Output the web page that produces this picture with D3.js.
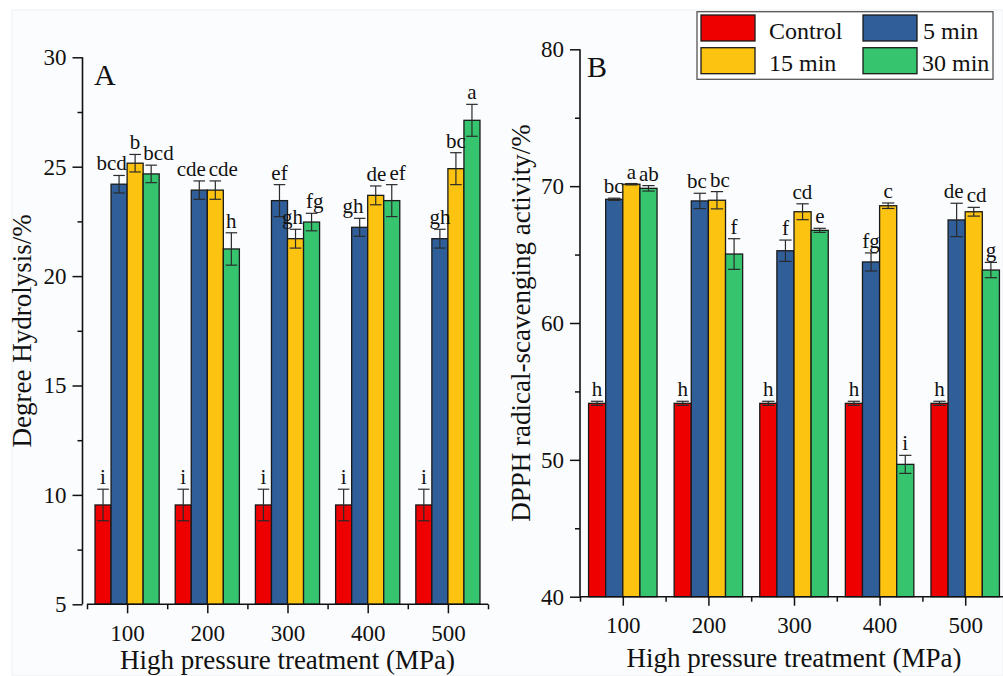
<!DOCTYPE html>
<html>
<head>
<meta charset="utf-8">
<script src="https://cdn.jsdelivr.net/npm/d3@7/dist/d3.min.js"></script>
<style>
  html, body { margin: 0; padding: 0; background: #ffffff; }
  svg { display: block; }
  text { font-family: "Liberation Serif", "Times New Roman", serif; fill: #111; }
</style>
</head>
<body>
<svg id="chart" width="1003" height="676"></svg>
<script>
// ---- data ----
const pressures = [100, 200, 300, 400, 500];
const seriesNames = ["Control", "5 min", "15 min", "30 min"];
const seriesColors = ["#ee0000", "#2f5e99", "#fdc311", "#36c46f"];

// Degree of hydrolysis (%), mean and SD
const dhControl = [9.54, 9.54, 9.54, 9.54, 9.54];
const dh5 = [24.20, 23.93, 23.45, 22.23, 21.71];
const dh15 = [25.16, 23.93, 21.71, 23.69, 24.91];
const dh30 = [24.67, 21.24, 22.47, 23.45, 27.12];
const dhControlErr = [0.72, 0.72, 0.72, 0.72, 0.72];
const dh5Err = [0.40, 0.42, 0.73, 0.41, 0.43];
const dh15Err = [0.40, 0.42, 0.43, 0.43, 0.73];
const dh30Err = [0.40, 0.74, 0.40, 0.73, 0.73];
const dhControlSig = ["i", "i", "i", "i", "i"];
const dh5Sig = ["bcd", "cde", "ef", "gh", "gh"];
const dh15Sig = ["b", "cde", "gh", "de", "bc"];
const dh30Sig = ["bcd", "h", "fg", "ef", "a"];

// DPPH radical-scavenging activity (%), mean and SD
const dpControl = [54.13, 54.13, 54.13, 54.13, 54.13];
const dp5 = [69.04, 68.92, 65.28, 64.46, 67.53];
const dp15 = [70.14, 68.97, 68.13, 68.57, 68.13];
const dp30 = [69.84, 65.04, 66.77, 49.67, 63.87];
const dpControlErr = [0.15, 0.15, 0.15, 0.15, 0.15];
const dp5Err = [0.08, 0.56, 0.78, 0.66, 1.22];
const dp15Err = [0.05, 0.63, 0.58, 0.20, 0.32];
const dp30Err = [0.20, 1.12, 0.15, 0.66, 0.56];
const dpControlSig = ["h", "h", "h", "h", "h"];
const dp5Sig = ["bc", "bc", "f", "fg", "de"];
const dp15Sig = ["a", "bc", "cd", "c", "cd"];
const dp30Sig = ["ab", "f", "e", "i", "g"];

const yTicksA = [5, 10, 15, 20, 25, 30];
const yTicksB = [40, 50, 60, 70, 80];

// ---- helpers ----
function buildRows(vals, errs, sigs) {
  const rows = [];
  pressures.forEach((p, i) => {
    seriesNames.forEach((s, j) => {
      rows.push({ p, s, j, v: vals[j][i], e: errs[j][i], sig: sigs[j][i] });
    });
  });
  return rows;
}

const svg = d3.select("#chart");

// faint sheet behind the figure
svg.append("rect").attr("x", 0).attr("y", 0).attr("width", 1003).attr("height", 676).attr("fill", "#ffffff");
svg.append("rect").attr("x", 12).attr("y", 10).attr("width", 991).attr("height", 666)
  .attr("fill", "#fbfcfd").attr("stroke", "#eef0f3").attr("stroke-width", 1);

function drawPanel(opt) {
  const g = svg.append("g");
  const x = d3.scaleLinear().domain([50, 550]).range([opt.x0, opt.x1]);
  const y = d3.scaleLinear().domain(opt.yDomain).range([opt.y0, opt.y1]);
  const step = x(200) - x(100);
  const inner = d3.scaleBand().domain(seriesNames).range([-0.4 * step, 0.4 * step]);
  const bw = inner.bandwidth();

  const rows = buildRows(opt.vals, opt.errs, opt.sigs);

  // bars
  g.selectAll("rect.bar").data(rows).join("rect")
    .attr("class", "bar")
    .attr("x", d => x(d.p) + inner(d.s))
    .attr("y", d => y(d.v))
    .attr("width", bw)
    .attr("height", d => y(opt.yDomain[0]) - y(d.v))
    .attr("fill", d => seriesColors[d.j])
    .attr("stroke", "#1a1a1a")
    .attr("stroke-width", 1.3);

  // error bars
  const cap = bw * 0.36;
  const eb = g.selectAll("g.err").data(rows).join("g").attr("class", "err")
    .attr("stroke", "#2a2a2a").attr("stroke-width", 1.2);
  eb.append("line")
    .attr("x1", d => x(d.p) + inner(d.s) + bw / 2)
    .attr("x2", d => x(d.p) + inner(d.s) + bw / 2)
    .attr("y1", d => y(d.v + d.e)).attr("y2", d => y(d.v - d.e));
  eb.append("line")
    .attr("x1", d => x(d.p) + inner(d.s) + bw / 2 - cap)
    .attr("x2", d => x(d.p) + inner(d.s) + bw / 2 + cap)
    .attr("y1", d => y(d.v + d.e)).attr("y2", d => y(d.v + d.e));
  eb.append("line")
    .attr("x1", d => x(d.p) + inner(d.s) + bw / 2 - cap)
    .attr("x2", d => x(d.p) + inner(d.s) + bw / 2 + cap)
    .attr("y1", d => y(d.v - d.e)).attr("y2", d => y(d.v - d.e));

  // significance letters, spread apart when neighbours collide
  const labels = g.selectAll("text.sig").data(rows).join("text")
    .attr("class", "sig")
    .attr("text-anchor", "middle")
    .attr("font-size", 21)
    .attr("x", d => x(d.p) + inner(d.s) + bw / 2)
    .attr("y", d => y(d.v + d.e) - 5)
    .text(d => d.sig);
  labels.each(function (d) {
    d.lx = x(d.p) + inner(d.s) + bw / 2;
    d.ly = y(d.v + d.e) - 5;
    d.w = this.getComputedTextLength();
  });
  const gap = 3;
  pressures.forEach(p => {
    const grp = rows.filter(r => r.p === p);
    for (let it = 0; it < 10; it++) {
      for (let k = 0; k < grp.length - 1; k++) {
        const a = grp[k], b = grp[k + 1];
        if (Math.abs(a.ly - b.ly) > 34) continue;
        const overlap = (a.lx + a.w / 2 + gap) - (b.lx - b.w / 2);
        if (overlap > 0) { a.lx -= overlap / 2; b.lx += overlap / 2; }
      }
    }
  });
  labels.attr("x", d => d.lx);

  // y axis
  const yAxis = d3.axisLeft(y).tickValues(opt.yTicks).tickSize(10).tickPadding(6).tickFormat(d3.format("d"));
  const ya = g.append("g").attr("transform", `translate(${opt.yAxisX},0)`).call(yAxis);
  const minorY = d3.axisLeft(y).tickValues(opt.yTicks.slice(0, -1).map((t, i) => (t + opt.yTicks[i + 1]) / 2))
    .tickSize(5).tickFormat("");
  g.append("g").attr("transform", `translate(${opt.yAxisX},0)`).call(minorY).select(".domain").remove();

  // x axis
  const xAxis = d3.axisBottom(x).tickValues(pressures).tickSize(9).tickPadding(11).tickFormat(d3.format("d"));
  const xa = g.append("g").attr("transform", `translate(0,${opt.y0})`).call(xAxis);
  const minorX = d3.axisBottom(x).tickValues([50, 150, 250, 350, 450, 550]).tickSize(5).tickFormat("");
  g.append("g").attr("transform", `translate(0,${opt.y0})`).call(minorX).select(".domain").remove();

  [ya, xa].forEach(a => {
    a.select(".domain").attr("stroke", "#111").attr("stroke-width", 1.6);
    a.selectAll(".tick text").attr("font-size", 23).attr("fill", "#111");
  });
  g.selectAll(".tick line").attr("stroke", "#111").attr("stroke-width", 1.5);
  ya.select(".domain").attr("d", `M0,${opt.y0}V${opt.y1}`);
  xa.select(".domain").attr("d", `M${opt.x0},0H${opt.x1}`);

  // titles
  g.append("text").attr("x", (opt.x0 + opt.x1) / 2).attr("y", opt.xTitleY)
    .attr("text-anchor", "middle").attr("font-size", 27).text("High pressure treatment (MPa)");
  g.append("text")
    .attr("transform", `translate(${opt.yTitleX},${(opt.y0 + opt.y1) / 2}) rotate(-90)`)
    .attr("text-anchor", "middle").attr("font-size", 27).text(opt.yTitle);
  g.append("text").attr("x", opt.tagX).attr("y", opt.tagY).attr("font-size", 30).text(opt.tag);
  return g;
}

drawPanel({
  x0: 87, x1: 488, y0: 604.3, y1: 57.3, yAxisX: 82.5,
  yDomain: [5, 30], yTicks: yTicksA,
  vals: [dhControl, dh5, dh15, dh30],
  errs: [dhControlErr, dh5Err, dh15Err, dh30Err],
  sigs: [dhControlSig, dh5Sig, dh15Sig, dh30Sig],
  yTitle: "Degree Hydrolysis/%", yTitleX: 31, xTitleY: 669,
  tag: "A", tagX: 94, tagY: 85
});

drawPanel({
  x0: 580, x1: 1008, y0: 596.7, y1: 49.3, yAxisX: 580,
  yDomain: [40, 80], yTicks: yTicksB,
  vals: [dpControl, dp5, dp15, dp30],
  errs: [dpControlErr, dp5Err, dp15Err, dp30Err],
  sigs: [dpControlSig, dp5Sig, dp15Sig, dp30Sig],
  yTitle: "DPPH radical-scavenging activity/%", yTitleX: 530, xTitleY: 667,
  tag: "B", tagX: 587, tagY: 77
});

// legend
const legend = svg.append("g");
legend.append("rect").attr("x", 697).attr("y", 11.7).attr("width", 296).attr("height", 67.6)
  .attr("fill", "#ffffff").attr("stroke", "#555").attr("stroke-width", 1.3);
const legPos = [
  { sx: 701, sy: 15, tx: 769, ty: 38.5 },
  { sx: 863, sy: 15, tx: 923, ty: 38.5 },
  { sx: 701, sy: 47.7, tx: 769, ty: 70.5 },
  { sx: 863, sy: 47.7, tx: 922, ty: 70.5 }
];
seriesNames.forEach((s, j) => {
  const p = legPos[j];
  legend.append("rect").attr("x", p.sx).attr("y", p.sy).attr("width", 54).attr("height", 26)
    .attr("fill", seriesColors[j]).attr("stroke", "#1a1a1a").attr("stroke-width", 1.3);
  legend.append("text").attr("x", p.tx).attr("y", p.ty).attr("font-size", 24).text(s);
});
</script>
</body>
</html>
